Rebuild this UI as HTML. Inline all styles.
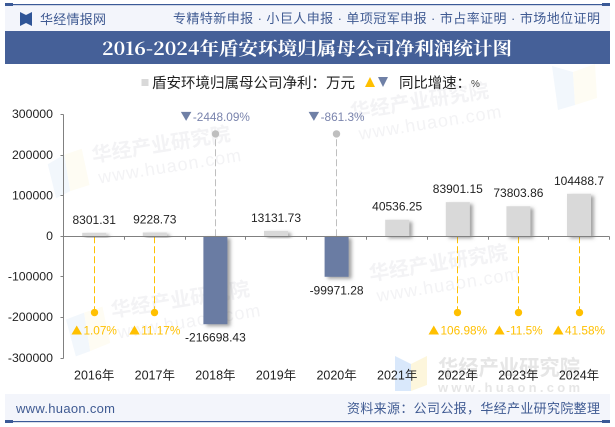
<!DOCTYPE html>
<html>
<head>
<meta charset="utf-8">
<style>
html,body{margin:0;padding:0;background:#fff;}
#wrap{position:relative;width:615px;height:427px;overflow:hidden;}
svg{display:block;font-family:"Liberation Sans","Noto Sans CJK SC",sans-serif;}
</style>
</head>
<body>
<div id="wrap">
<svg id="chart" width="615" height="427" viewBox="0 0 615 427" xmlns="http://www.w3.org/2000/svg">
  <defs>
    <filter id="barShadow" x="-30%" y="-30%" width="170%" height="170%">
      <feDropShadow dx="3" dy="2" stdDeviation="1.8" flood-color="#555" flood-opacity="0.55"/>
    </filter>
  </defs>

  <g>
    <g transform="rotate(-9 170 150)" fill="#f3f3f5" font-weight="bold">
      <polygon points="47,145 65,138 65,175 50,180" fill="#f2f7fc"/>
      <polygon points="65,138 83,135 85,172 65,175" fill="#fefcf3"/>
      <text x="92" y="150" font-size="20">华经产业研究院</text>
      <text x="95" y="172" font-size="18" font-weight="normal" letter-spacing="1">www.huaon.com</text>
    </g>
    <g transform="rotate(-9 420 105)" fill="#f3f3f5" font-weight="bold">
      <text x="350" y="108" font-size="20">华经产业研究院</text>
      <text x="355" y="130" font-size="18" font-weight="normal" letter-spacing="1">www.huaon.com</text>
    </g>
    <g>
      <polygon points="552,66 573,72 575,105 558,110" fill="#f2f7fc"/>
      <polygon points="573,72 595,64 597,98 575,105" fill="#fefcf3"/>
    </g>
    <g transform="rotate(-9 190 310)" fill="#f3f3f5" font-weight="bold">
      <polygon points="66,300 85,296 85,335 70,338" fill="#f2f7fc"/>
      <polygon points="85,296 104,293 106,330 85,335" fill="#fefcf3"/>
      <text x="112" y="305" font-size="20">华经产业研究院</text>
      <text x="115" y="327" font-size="18" font-weight="normal" letter-spacing="1">www.huaon.com</text>
    </g>
    <g transform="rotate(-9 450 260)" fill="#f3f3f5" font-weight="bold">
      <text x="368" y="268" font-size="20">华经产业研究院</text>
      <text x="372" y="290" font-size="18" font-weight="normal" letter-spacing="1">www.huaon.com</text>
    </g>
    <g>
      <polygon points="395,356 411,364 411,391 395,391" fill="#d9e8fb"/>
      <polygon points="411,364 427,356 427,385 411,391" fill="#fdf6dc"/>
      <text x="438" y="375" font-size="21" font-weight="bold" fill="#e6e6e6" textLength="142" lengthAdjust="spacingAndGlyphs">华经产业研究院</text>
      <text x="438" y="392" font-size="13" font-weight="bold" fill="#e6e6e6" textLength="142">www.huaon.com</text>
    </g>
  </g>

  <g>
    <rect x="5" y="5" width="605" height="26" fill="#f3f5fb"/>
    <rect x="5" y="4" width="605" height="1.2" fill="#3b5a97"/>
    <rect x="5" y="3" width="8" height="3" fill="#3b5a97"/>
    <rect x="602" y="3" width="8" height="3" fill="#3b5a97"/>
    <g>
      <polygon points="20,12 26,15 26,23 20,26" fill="#2f5597"/>
      <polygon points="32,12 26,15 26,23 32,26" fill="#2f5597"/>
    </g>
    <text x="40" y="24" font-size="13" fill="#3f5a92" textLength="66">华经情报网</text>
    <text x="173" y="23" font-size="13" fill="#3f5a92" textLength="427">专精特新申报 · 小巨人申报 · 单项冠军申报 · 市占率证明 · 市场地位证明</text>
  </g>

  <rect x="5" y="31" width="605" height="33" fill="#456098"/>
  <text x="102" y="55" font-size="18" font-weight="bold" fill="#fff" textLength="410" lengthAdjust="spacingAndGlyphs" style="font-family:'Noto Serif CJK SC','Liberation Serif',serif">2016-2024年盾安环境归属母公司净利润统计图</text>

  <g>
    <rect x="141.500" y="79" width="7" height="7" fill="#d9d9d9"/>
    <text x="152" y="88" font-size="14.5" fill="#222" textLength="203">盾安环境归属母公司净利：万元</text>
    <polygon points="365,87 375,87 370,77" fill="#ffc000"/>
    <polygon points="378,77 388,77 383,87" fill="#6f80a6"/>
    <text x="399" y="88" font-size="14.5" fill="#222" textLength="72">同比增速：</text>
    <text x="471" y="87" font-size="10" fill="#444">%</text>
  </g>

  <g id="plot"></g>

  <g>
    <rect x="5" y="394" width="605" height="27" fill="#f3f5fb"/>
    <rect x="5" y="421" width="605" height="1.2" fill="#3b5a97"/>
    <rect x="5" y="420" width="8" height="3" fill="#3b5a97"/>
    <rect x="602" y="420" width="8" height="3" fill="#3b5a97"/>
    <text x="16" y="413" font-size="13" fill="#3f5a92" textLength="99">www.huaon.com</text>
    <text x="347" y="413" font-size="13" fill="#3f5a92" textLength="253">资料来源：公司公报，华经产业研究院整理</text>
  </g>
</svg>
</div>
<script>
var categories = ['2016年','2017年','2018年','2019年','2020年','2021年','2022年','2023年','2024年'];
var profitValues = [8301.31, 9228.73, -216698.43, 13131.73, -99971.28, 40536.25, 83901.15, 73803.86, 104488.7];
var profitLabels = ['8301.31','9228.73','-216698.43','13131.73','-99971.28','40536.25','83901.15','73803.86','104488.7'];
var growthLabels = ['1.07%','11.17%','-2448.09%',null,'-861.3%',null,'106.98%','-11.5%','41.58%'];
var growthDirections = ['up','up','down',null,'down',null,'up','up','up'];
var growthDotValues = [-188000,-188000,252000,null,252000,null,-188000,-188000,-188000];
var yTickValues = [300000,200000,100000,0,-100000,-200000,-300000];

var SVG_NS = 'http://www.w3.org/2000/svg';
var plot = document.getElementById('plot');
var axisLeft = 63.5, axisRight = 609, bandStart = 63.9, yZero = 236.2, pxPerUnit = 121.8 / 300000;
var bandWidth = 60.6;
var barWidth = 24;

function xScale(i) { return bandStart + bandWidth * (i + 0.5); }
function yScale(v) { return yZero - v * pxPerUnit; }
function crisp(p) { return Math.floor(p) + 0.5; }
function make(tag, attrs, text) {
  var el = document.createElementNS(SVG_NS, tag);
  for (var k in attrs) { el.setAttribute(k, attrs[k]); }
  if (text !== undefined) { el.textContent = text; }
  plot.appendChild(el);
  return el;
}

// growth connector lines (beneath bars)
growthDirections.forEach(function (dir, i) {
  if (!dir) { return; }
  var color = dir === 'up' ? '#ffc000' : '#bfbfbf';
  var line = make('line', {x1: crisp(xScale(i)), x2: crisp(xScale(i)), y1: yZero, y2: yScale(growthDotValues[i]), stroke: color, 'stroke-width': 1, 'stroke-dasharray': '7,3'});
  
  
});

// bars
profitValues.forEach(function (v, i) {
  var top = Math.min(yScale(v), yZero);
  var h = Math.abs(yScale(v) - yZero);
  var bar = make('rect', {x: xScale(i) - barWidth / 2, y: top, width: barWidth, height: h, fill: v >= 0 ? '#d9d9d9' : '#6a7ca3', filter: 'url(#barShadow)'});
  
  
});

// axes
var yAxisLine = make('line', {x1: axisLeft, x2: axisLeft, y1: crisp(yScale(300000)), y2: crisp(yScale(-300000)), stroke: '#808080', 'stroke-width': 1});



var xAxisLine = make('line', {x1: axisLeft, x2: axisRight, y1: crisp(yZero), y2: crisp(yZero), stroke: '#808080', 'stroke-width': 1});



yTickValues.forEach(function (t) {
  var tick = make('line', {x1: axisLeft - 3, x2: axisLeft, y1: crisp(yScale(t)), y2: crisp(yScale(t)), stroke: '#808080', 'stroke-width': 1});
  
  
  var label = make('text', {x: 53, y: yScale(t) + 3.8, 'text-anchor': 'end', 'font-size': 12.3, fill: '#222'}, String(t));
  
  
});

categories.forEach(function (c, i) {
  var tx = crisp(bandStart + bandWidth * (i + 1));
  var tick = make('line', {x1: tx, x2: tx, y1: yZero, y2: yZero + 3.5, stroke: '#808080', 'stroke-width': 1});
  
  
  var label = make('text', {x: xScale(i), y: 379.5, 'text-anchor': 'middle', 'font-size': 12.5, fill: '#222'}, c);
  
  
});

// value labels
profitValues.forEach(function (v, i) {
  var y = v >= 0 ? yScale(v) - 9 : yScale(v) + 17.5;
  var label = make('text', {x: xScale(i), y: y, 'text-anchor': 'middle', 'font-size': 12, fill: '#222'}, profitLabels[i]);
  
  
});

// growth dots and labels
growthDirections.forEach(function (dir, i) {
  if (!dir) { return; }
  var up = dir === 'up';
  var cx = xScale(i), cy = yScale(growthDotValues[i]);
  var dot = make('circle', {cx: crisp(cx), cy: cy, r: 3.7, fill: up ? '#ffc000' : '#bfbfbf'});
  
  

  var baseY = up ? cy + 22 : cy - 13;
  var txt = make('text', {x: 0, y: baseY, 'font-size': 11.800, fill: up ? '#ffc000' : '#7a84ad'}, growthLabels[i]);
  
  
  var tw = txt.getComputedTextLength();
  var left = cx - (tw + 12) / 2;
  txt.setAttribute('x', left + 12);
  var pts = up
    ? [left, baseY, left + 10.5, baseY, left + 5.25, baseY - 9]
    : [left, baseY - 9, left + 10.5, baseY - 9, left + 5.25, baseY];
  var tri = make('polygon', {points: pts.join(','), fill: up ? '#ffc000' : '#6f80a6'});
  
  
});
</script>
</body>
</html>
